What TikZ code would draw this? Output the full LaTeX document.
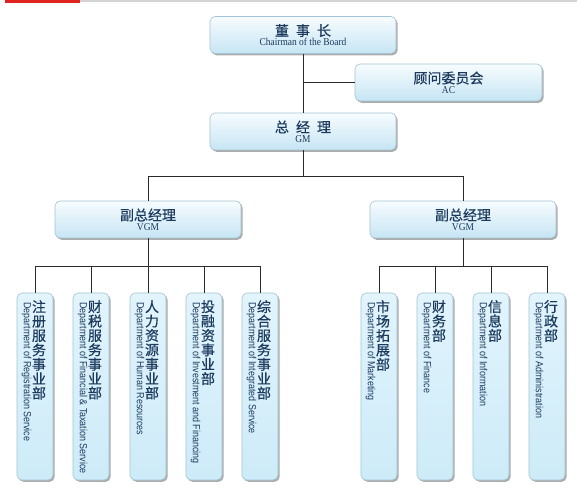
\documentclass[tikz,border=0pt]{standalone}
\usepackage{fontspec}
\setmainfont{Liberation Serif}
\newfontfamily\cjk[FakeBold=0.6]{Noto Sans CJK SC}
\newfontfamily\enserif[FakeStretch=0.9]{Liberation Serif}
\newfontfamily\ensans[FakeStretch=0.86]{Liberation Sans}
\usetikzlibrary{shadows}
\definecolor{txt}{HTML}{1B3A5E}
\definecolor{boxtop}{HTML}{F7FCFE}
\definecolor{boxbot}{HTML}{C6E5F4}
\definecolor{deptop}{HTML}{E2F4FC}
\definecolor{depbot}{HTML}{CDEBF8}
\definecolor{boxline}{HTML}{A3C4D4}
\definecolor{connc}{HTML}{2A2A2A}
\definecolor{hdrred}{HTML}{E0231E}
\definecolor{hdrgray}{HTML}{D4D4D4}
\tikzset{
  basebox/.style={draw=boxline, line width=0.6pt, rounded corners=5pt,
    drop shadow={shadow xshift=1.6pt, shadow yshift=-1.8pt, fill=black!65},
    inner sep=0pt, text=txt},
  topbox/.style={basebox, top color=boxtop, bottom color=boxbot,
    minimum width=186pt, minimum height=37pt, align=center},
  deptbox/.style={basebox, top color=deptop, bottom color=depbot,
    minimum width=36pt, minimum height=187pt},
  vcn/.style={align=center, inner sep=0pt, anchor=north, text=txt,
    font=\cjk\fontsize{14}{14.4}\selectfont},
  ven/.style={rotate=-90, anchor=west, inner sep=0pt, text=txt,
    font=\ensans\fontsize{10.4}{11}\selectfont},
  conn/.style={draw=connc, line width=0.8pt},
}
\newcommand{\tb}[2]{{\cjk\fontsize{14}{15}\selectfont #1}\\[-2pt]{\enserif\fontsize{10.5}{11}\selectfont #2}}
\begin{document}
\begin{tikzpicture}[x=1pt, y=-1pt]
\useasboundingbox (0,0) rectangle (587,500);
% header
\fill[hdrgray] (77,0) rectangle (577,2.5);
\fill[hdrred] (5,0) rectangle (80,3.2);
% top level
\node[topbox] (ch) at (303,35) {\tb{董\hspace{7pt}事\hspace{7pt}长}{Chairman of the Board}};
\node[topbox, minimum width=187pt] (ac) at (448.5,82.5) {\tb{顾问委员会}{AC}};
\node[topbox] (gm) at (303,131.5) {\tb{总\hspace{7pt}经\hspace{7pt}理}{GM}};
\node[topbox] (v1) at (148,219.5) {\tb{副总经理}{VGM}};
\node[topbox] (v2) at (463,219.5) {\tb{副总经理}{VGM}};
\coordinate (j1) at (303,176);
\coordinate (b1) at (148,266);
\coordinate (b2) at (463,266);
% departments
\foreach \n/\x in {d1/35,d2/91,d3/148,d4/204,d5/260,d6/379,d7/435,d8/491,d9/547}{
  \node[deptbox] (\n) at (\x,386.5) {};
}
\node[vcn] (c1) at ([xshift=4pt]d1.north |- 0,300) {注\\册\\服\\务\\事\\业\\部};
\node[vcn] (c2) at ([xshift=4pt]d2.north |- 0,300) {财\\税\\服\\务\\事\\业\\部};
\node[vcn] (c3) at ([xshift=4pt]d3.north |- 0,300) {人\\力\\资\\源\\事\\业\\部};
\node[vcn] (c4) at ([xshift=4pt]d4.north |- 0,300) {投\\融\\资\\事\\业\\部};
\node[vcn] (c5) at ([xshift=4pt]d5.north |- 0,300) {综\\合\\服\\务\\事\\业\\部};
\node[vcn] (c6) at ([xshift=4pt]d6.north |- 0,300) {市\\场\\拓\\展\\部};
\node[vcn] (c7) at ([xshift=4pt]d7.north |- 0,300) {财\\务\\部};
\node[vcn] (c8) at ([xshift=4pt]d8.north |- 0,300) {信\\息\\部};
\node[vcn] (c9) at ([xshift=4pt]d9.north |- 0,300) {行\\政\\部};
\node[ven] (e1) at ([xshift=-8.5pt]d1.north |- 0,302) {Department of Registration Service};
\node[ven] (e2) at ([xshift=-8.5pt]d2.north |- 0,302) {Department of Financial \& Taxation Service};
\node[ven] (e3) at ([xshift=-8.5pt]d3.north |- 0,302) {Department of Human Resources};
\node[ven] (e4) at ([xshift=-8.5pt]d4.north |- 0,302) {Department of Investment and Financing};
\node[ven] (e5) at ([xshift=-8.5pt]d5.north |- 0,302) {Department of Integrated Service};
\node[ven] (e6) at ([xshift=-8.5pt]d6.north |- 0,302) {Department of Marketing};
\node[ven] (e7) at ([xshift=-8.5pt]d7.north |- 0,302) {Department of Finance};
\node[ven] (e8) at ([xshift=-8.5pt]d8.north |- 0,302) {Department of Information};
\node[ven] (e9) at ([xshift=-8.5pt]d9.north |- 0,302) {Department of Administration};
% connectors
\draw[conn] (ch.south) -- (gm.north);
\draw[conn] (ac.west) -- (ac.west -| ch.south);
\draw[conn] (gm.south) -- (j1);
\draw[conn] (v1.north) -- (v1.north |- j1) -- (v2.north |- j1) -- (v2.north);
\draw[conn] (v1.south) -- (b1);
\draw[conn] (v2.south) -- (b2);
\draw[conn] (d1.north) -- (d1.north |- b1) -- (d5.north |- b1) -- (d5.north);
\foreach \n in {d2,d3,d4}{\draw[conn] (\n.north) -- (\n.north |- b1);}
\draw[conn] (d6.north) -- (d6.north |- b2) -- (d9.north |- b2) -- (d9.north);
\foreach \n in {d7,d8}{\draw[conn] (\n.north) -- (\n.north |- b2);}
\end{tikzpicture}
\end{document}
